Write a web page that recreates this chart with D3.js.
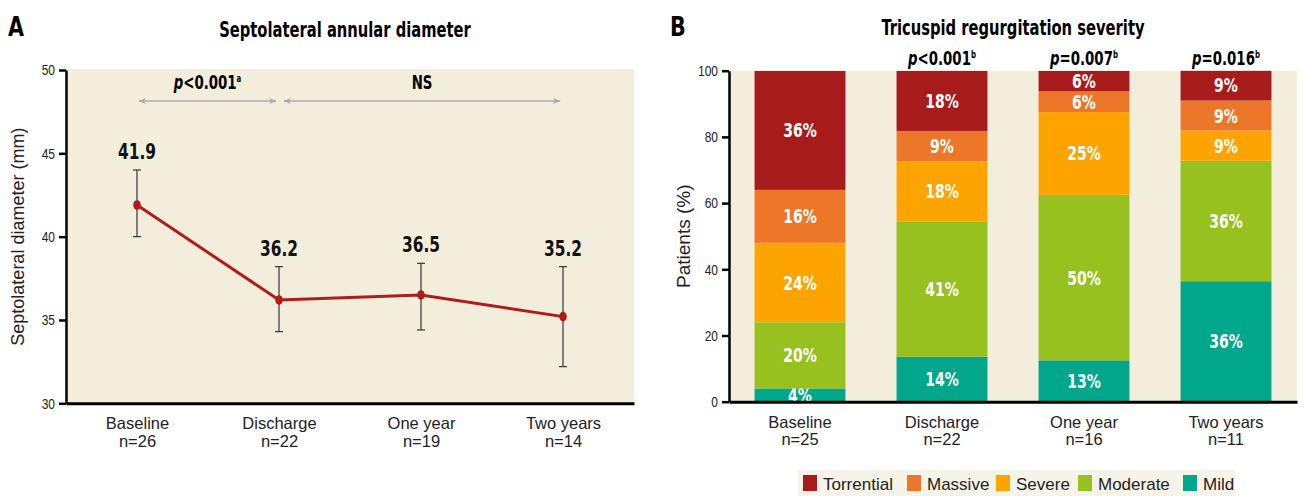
<!DOCTYPE html>
<html>
<head>
<meta charset="utf-8">
<script src="https://cdn.jsdelivr.net/npm/d3@7"></script>
<style>
  body { margin: 0; background: #fff; }
  svg { display: block; }
</style>
</head>
<body>
<svg id="chart" width="1304" height="496"></svg>
<script>
const categories = ["Baseline", "Discharge", "One year", "Two years"];

// panel A
const nA = [26, 22, 19, 14];
const diamMean = [41.9, 36.2, 36.5, 35.2];
const diamLow = [40.0, 34.3, 34.4, 32.2];
const diamHigh = [44.0, 38.2, 38.4, 38.2];
const diamTicks = [30, 35, 40, 45, 50];

// panel B (bottom to top)
const nB = [25, 22, 16, 11];
const severities = ["Mild", "Moderate", "Severe", "Massive", "Torrential"];
const mild = [4, 13.6, 12.5, 36.4];
const moderate = [20, 40.9, 50, 36.4];
const severe = [24, 18.2, 25, 9.1];
const massive = [16, 9.1, 6.25, 9.1];
const torrential = [36, 18.2, 6.25, 9.1];
const pOps = ["", "<", "=", "="];
const pVals = ["", "0.001", "0.007", "0.016"];
const pctTicks = [0, 20, 40, 60, 80, 100];
const legendOrder = ["Torrential", "Massive", "Severe", "Moderate", "Mild"];

const colors = {
  Torrential: "#a81b1b",
  Massive: "#ec7729",
  Severe: "#fea400",
  Moderate: "#96c11f",
  Mild: "#00a78a"
};
const beige = "#f2eedb";
const bold = "'DejaVu Sans Condensed','DejaVu Sans',sans-serif";
const regular = "'Liberation Sans',Arial,sans-serif";
const SQ = 0.78; // horizontal squeeze for the condensed bold lettering

const svg = d3.select("#chart");

// text squeezed horizontally around its anchor point
function cText(parent, x, y, size, sx = SQ) {
  return parent.append("text")
    .attr("transform", `translate(${x},${y}) scale(${sx},1)`)
    .style("font-family", bold).style("font-weight", "bold")
    .style("font-size", size + "px");
}

const defs = svg.append("defs");
defs.append("marker")
  .attr("id", "arr")
  .attr("viewBox", "0 0 10 10")
  .attr("refX", 9).attr("refY", 5)
  .attr("markerWidth", 5).attr("markerHeight", 5)
  .attr("orient", "auto-start-reverse")
  .append("path")
  .attr("d", "M0,1 L10,5 L0,9 L3,5 z")
  .attr("fill", "#aaa");

function twoLineLabels(axisG, ns) {
  axisG.selectAll(".tick text").remove();
  axisG.selectAll(".tick").each(function (d, i) {
    const t = d3.select(this).append("text")
      .attr("x", 0).attr("y", 26)
      .attr("text-anchor", "middle")
      .style("font-family", regular).style("font-size", "16.5px").attr("fill", "#222");
    t.append("tspan").attr("x", 0).text(d);
    t.append("tspan").attr("x", 0).attr("dy", 17.5).text("n=" + ns[i]);
  });
}

function styleYAxis(axisG) {
  axisG.select(".domain").attr("stroke-width", 2.5);
  axisG.selectAll(".tick line").attr("stroke-width", 2.5);
  axisG.selectAll(".tick text")
    .attr("x", -11 / 0.8)
    .attr("transform", "scale(0.8,1)")
    .style("font-family", regular).style("font-size", "15px").attr("fill", "#222");
}

// ---------------- Panel A ----------------
const xA = d3.scalePoint().domain(categories).range([66, 634]).padding(0.5);
const yA = d3.scaleLinear().domain([30, 50]).range([403.3, 70]);

cText(svg, 8, 36, 27, 0.85).text("A");
cText(svg, 345, 37, 21).attr("text-anchor", "middle").text("Septolateral annular diameter");

svg.append("rect")
  .attr("x", 66).attr("y", yA(50) - 1)
  .attr("width", 634 - 66).attr("height", yA(30) - yA(50) + 1)
  .attr("fill", beige);

// significance arrows
const arrowsA = [
  { from: 0, to: 1, op: "<", val: "0.001", sup: "a" },
  { from: 1, to: 3, op: "", val: "NS", sup: "" }
];
arrowsA.forEach(a => {
  const x0 = xA(categories[a.from]) + (a.from === 0 ? 2 : 5);
  const x1 = xA(categories[a.to]) - 3;
  svg.append("line")
    .attr("x1", x0).attr("x2", x1)
    .attr("y1", 101).attr("y2", 101)
    .attr("stroke", "#aaa").attr("stroke-width", 1.6)
    .attr("marker-start", "url(#arr)").attr("marker-end", "url(#arr)");
  const t = cText(svg, (x0 + x1) / 2, 89, 19).attr("text-anchor", "middle");
  if (a.op) {
    t.append("tspan").style("font-style", "italic").text("p");
    t.append("tspan").text(a.op + a.val);
    t.append("tspan").attr("dy", -7).style("font-size", "10px").text(a.sup);
  } else {
    t.text(a.val);
  }
});

const yAxisA = svg.append("g").attr("transform", "translate(66,0)")
  .call(d3.axisLeft(yA).tickValues(diamTicks).tickSize(7).tickSizeOuter(0).tickPadding(4));
styleYAxis(yAxisA);

const xAxisA = svg.append("g").attr("transform", `translate(0,${yA(30)})`)
  .call(d3.axisBottom(xA).tickSize(0).tickSizeOuter(0));
xAxisA.select(".domain").attr("stroke-width", 3);
twoLineLabels(xAxisA, nA);

svg.append("text")
  .attr("transform", `translate(24,${(yA(30) + yA(50)) / 2}) rotate(-90)`)
  .attr("text-anchor", "middle")
  .style("font-family", regular).style("font-size", "18px").attr("fill", "#222")
  .text("Septolateral diameter (mm)");

const ptsA = categories.map((c, i) => ({ c, m: diamMean[i], lo: diamLow[i], hi: diamHigh[i] }));

const errG = svg.append("g").attr("stroke", "#333").attr("stroke-width", 1.2);
ptsA.forEach(p => {
  const x = xA(p.c);
  errG.append("line").attr("x1", x).attr("x2", x).attr("y1", yA(p.lo)).attr("y2", yA(p.hi));
  errG.append("line").attr("x1", x - 4).attr("x2", x + 4).attr("y1", yA(p.lo)).attr("y2", yA(p.lo));
  errG.append("line").attr("x1", x - 4).attr("x2", x + 4).attr("y1", yA(p.hi)).attr("y2", yA(p.hi));
});

svg.append("path")
  .datum(ptsA)
  .attr("fill", "none").attr("stroke", "#b01c1c").attr("stroke-width", 3)
  .attr("d", d3.line().x(d => xA(d.c)).y(d => yA(d.m)));

svg.selectAll("ellipse.pt").data(ptsA).enter().append("ellipse")
  .attr("class", "pt")
  .attr("cx", d => xA(d.c)).attr("cy", d => yA(d.m))
  .attr("rx", 3.8).attr("ry", 4.8)
  .attr("fill", "#b01c1c");

ptsA.forEach(p => {
  cText(svg, xA(p.c), yA(p.hi) - 11, 22).attr("text-anchor", "middle")
    .attr("fill", "#111").text(p.m.toFixed(1));
});

// ---------------- Panel B ----------------
const xB = d3.scaleBand().domain(categories).range([729, 1297])
  .paddingInner(0.36).paddingOuter(0.18);
const yB = d3.scaleLinear().domain([0, 100]).range([401.7, 70.7]);

cText(svg, 670, 36, 27, 0.85).text("B");
cText(svg, 1013, 35, 21).attr("text-anchor", "middle").text("Tricuspid regurgitation severity");

svg.append("rect")
  .attr("x", 729).attr("y", yB(100))
  .attr("width", 1297 - 729).attr("height", yB(0) - yB(100))
  .attr("fill", beige);

defs.append("clipPath").attr("id", "plotB")
  .append("rect").attr("x", 729).attr("y", yB(100))
  .attr("width", 1297 - 729).attr("height", yB(0) - yB(100));

const seriesVals = { Mild: mild, Moderate: moderate, Severe: severe, Massive: massive, Torrential: torrential };
const tableB = categories.map((c, i) => {
  const row = { cat: c };
  severities.forEach(s => { row[s] = seriesVals[s][i]; });
  return row;
});
const stacked = d3.stack().keys(severities)(tableB);

const barsG = svg.append("g").attr("clip-path", "url(#plotB)");
const layers = barsG.selectAll("g.layer").data(stacked).enter().append("g")
  .attr("class", "layer").attr("fill", d => colors[d.key]);

layers.selectAll("rect").data(d => d).enter().append("rect")
  .attr("x", d => xB(d.data.cat))
  .attr("y", d => yB(d[1]))
  .attr("width", xB.bandwidth())
  .attr("height", d => yB(d[0]) - yB(d[1]));

layers.each(function () {
  const layer = d3.select(this);
  layer.datum().forEach(d => {
    cText(layer, xB(d.data.cat) + xB.bandwidth() / 2, (yB(d[0]) + yB(d[1])) / 2 + 7, 20)
      .attr("text-anchor", "middle").attr("fill", "#fff")
      .text(Math.round(d[1] - d[0]) + "%");
  });
});

// p-values above bars
categories.forEach((c, i) => {
  if (!pVals[i]) return;
  const t = cText(svg, xB(c) + xB.bandwidth() / 2, 65, 19).attr("text-anchor", "middle");
  t.append("tspan").style("font-style", "italic").text("p");
  t.append("tspan").text(pOps[i] + pVals[i]);
  t.append("tspan").attr("dy", -7).style("font-size", "10px").text("b");
});

const yAxisB = svg.append("g").attr("transform", "translate(729,0)")
  .call(d3.axisLeft(yB).tickValues(pctTicks).tickSize(7).tickSizeOuter(0).tickPadding(4));
styleYAxis(yAxisB);

const xAxisB = svg.append("g").attr("transform", `translate(0,${yB(0)})`)
  .call(d3.axisBottom(xB).tickSize(0).tickSizeOuter(0));
xAxisB.select(".domain").attr("stroke-width", 3);
twoLineLabels(xAxisB, nB);

svg.append("text")
  .attr("transform", `translate(690,${(yB(0) + yB(100)) / 2}) rotate(-90)`)
  .attr("text-anchor", "middle")
  .style("font-family", regular).style("font-size", "19px").attr("fill", "#222")
  .text("Patients (%)");

// legend
const legendX = [803, 907, 996, 1078, 1183];
const legend = svg.append("g");
legend.append("rect").attr("x", 798).attr("y", 470).attr("width", 437).attr("height", 26)
  .attr("fill", "#f6f4e8");
legendOrder.forEach((s, i) => {
  legend.append("rect").attr("x", legendX[i]).attr("y", 475)
    .attr("width", 14).attr("height", 16).attr("fill", colors[s]);
  legend.append("text").attr("x", legendX[i] + 20).attr("y", 490)
    .style("font-family", regular).style("font-size", "17px").attr("fill", "#222")
    .text(s);
});
</script>
</body>
</html>
